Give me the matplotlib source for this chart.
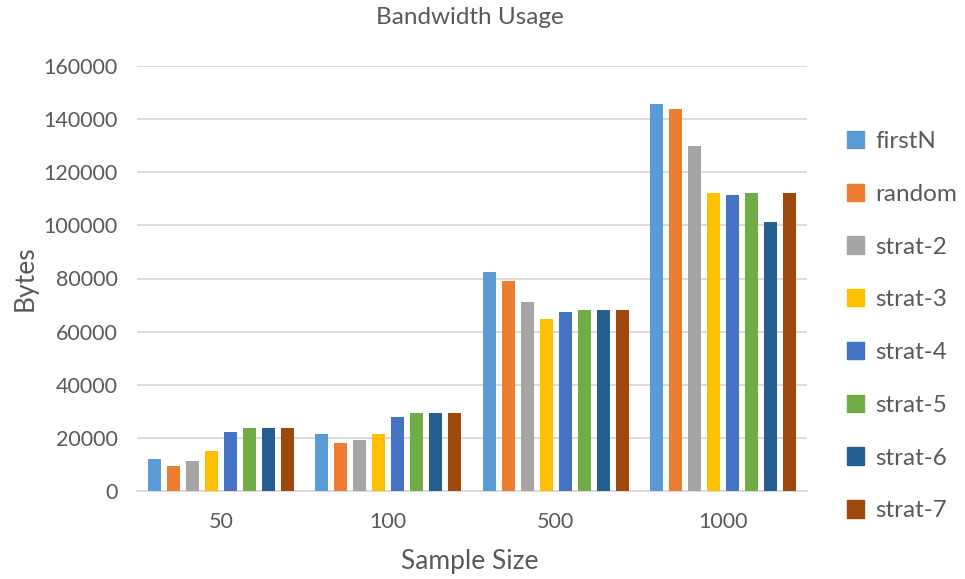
import matplotlib
matplotlib.use("Agg")
import matplotlib.pyplot as plt
import numpy as np
from matplotlib.patches import Patch

categories = ["50", "100", "500", "1000"]
series = ["firstN", "random", "strat-2", "strat-3", "strat-4", "strat-5", "strat-6", "strat-7"]
firstN = [12000, 21500, 82400, 145600]
random_ = [9500, 18200, 79100, 143900]
strat2 = [11200, 19100, 71300, 129700]
strat3 = [15100, 21500, 64800, 112200]
strat4 = [22200, 27800, 67300, 111500]
strat5 = [23800, 29400, 68100, 112200]
strat6 = [23800, 29400, 68100, 101200]
strat7 = [23800, 29400, 68100, 112200]
values = [firstN, random_, strat2, strat3, strat4, strat5, strat6, strat7]
colors = ["#5B9BD5", "#ED7D31", "#A5A5A5", "#FFC000", "#4472C4", "#70AD47", "#255E91", "#9E480E"]

plt.rcParams['font.family'] = ['Lato', 'DejaVu Sans']
W, H = 965, 579
fig = plt.figure(figsize=(W / 100, H / 100), dpi=100)
ax = fig.add_axes([137 / W, 1 - 491 / H, 670 / W, 425 / H])

x = np.arange(len(categories))
pitch = 0.1134
width = 0.08
for i, (name, vals, c) in enumerate(zip(series, values, colors)):
    ax.bar(x + (i - 3.5) * pitch, vals, width, color=c, label=name, zorder=3)

ax.set_xlim(-0.5, 3.5)
ax.set_ylim(0, 160000)
ax.set_yticks(np.arange(0, 160001, 20000))
ax.set_xticks(x)
ax.set_xticklabels(categories)
ax.grid(axis='y', color='#D9D9D9', linewidth=1.3, zorder=0)
for s in ['top', 'right', 'left']:
    ax.spines[s].set_visible(False)
ax.spines['bottom'].set_color('#D9D9D9')
ax.spines['bottom'].set_linewidth(1.3)
ax.tick_params(axis='both', length=0, colors='#595959', labelsize=15.5)
ax.tick_params(axis='y', pad=14)
ax.tick_params(axis='x', pad=15)
ax.set_xlabel("Sample Size", fontsize=19, color='#595959')
ax.set_ylabel("Bytes", fontsize=19, color='#595959')
ax.xaxis.set_label_coords((470 - 137) / 670, -(562 - 491) / 425)
ax.yaxis.set_label_coords(-(137 - 25) / 670, (491 - 278) / 425)
ax.xaxis.label.set_va('center')
ax.yaxis.label.set_va('center')
fig.text(470 / W, 1 - 18 / H, "Bandwidth Usage", ha='center', va='center', fontsize=17.5, color='#595959')

handles = [Patch(color=c, label=n) for n, c in zip(series, colors)]
leg = fig.legend(handles=handles, loc='upper left', bbox_to_anchor=(825 / W, 1 - 109 / H),
                 frameon=False, fontsize=17.5, labelspacing=1.3, handlelength=0.72,
                 handleheight=0.72, handletextpad=0.45, labelcolor='#595959')

fig.savefig("out.png", dpi=100)
